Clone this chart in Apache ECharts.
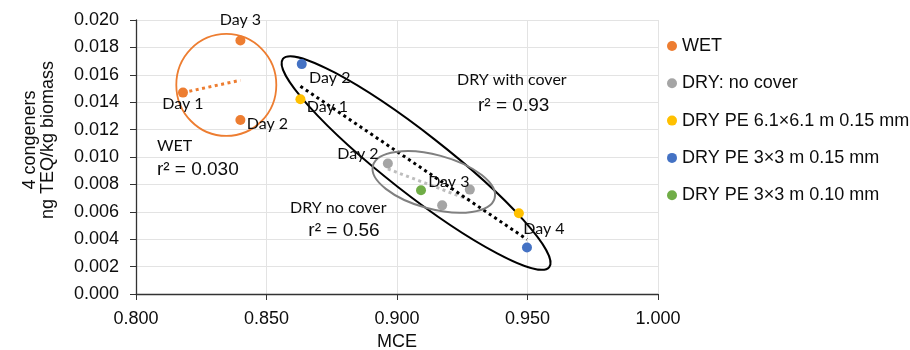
<!DOCTYPE html>
<html>
<head>
<meta charset="utf-8">
<script src="https://cdn.jsdelivr.net/npm/echarts@6/dist/echarts.min.js"></script>
<style>
  html, body { margin: 0; padding: 0; background: #fff; }
  #chart { width: 910px; height: 350px; }
</style>
</head>
<body>
<div id="chart"></div>
<script>
// values
const wetMce = [0.818, 0.840, 0.840]
const wetTeq = [0.0147, 0.0185, 0.0127]
const wetDays = ['Day 1', 'Day 3', 'Day 2']

const noCoverMce = [0.8965, 0.9279, 0.9173]
const noCoverTeq = [0.00952, 0.00762, 0.00647]
const noCoverDays = ['Day 2', 'Day 3', '']

const pe61Mce = [0.863, 0.9467]
const pe61Teq = [0.01421, 0.0059]
const pe61Days = ['Day 1', '']

const pe3x15Mce = [0.8635, 0.9498]
const pe3x15Teq = [0.01678, 0.00339]
const pe3x15Days = ['Day 2', 'Day 4']

const pe3x10Mce = [0.9092]
const pe3x10Teq = [0.00757]

const seriesNames = ['WET', 'DRY: no cover', 'DRY PE 6.1×6.1 m 0.15 mm', 'DRY PE 3×3 m 0.15 mm', 'DRY PE 3×3 m 0.10 mm']
const colors = ['#ED7D31', '#A5A5A5', '#FFC000', '#4472C4', '#70AD47']

const xTicks = [0.8, 1.0, 0.05]
const yTicks = [0, 0.02, 0.002]

// label offsets (px) for the day tags, keyed by series then point
const dayOffsets = {
  'WET': [[0, 11], [0, -21], [27, 4]],
  'DRY: no cover': [[-30, -10], [-21, -8], [0, 0]],
  'DRY PE 6.1×6.1 m 0.15 mm': [[27, 8], [0, 0]],
  'DRY PE 3×3 m 0.15 mm': [[28, 14], [17, -19]]
}

const chart = echarts.init(document.getElementById('chart'))
const labelFont = 'Lato, "Open Sans", sans-serif'
const textColor = '#0d0d0d'

function points(name, xs, ys, days) {
  return xs.map((x, i) => {
    const item = { value: [x, ys[i]] }
    if (days && days[i]) {
      item.label = {
        show: true,
        formatter: days[i],
        position: 'inside',
        offset: dayOffsets[name][i],
        color: textColor,
        fontSize: 16,
        fontFamily: labelFont
      }
    }
    return item
  })
}

// least squares line over the x range of the group
function fit(xs, ys) {
  const n = xs.length
  const mx = xs.reduce((a, b) => a + b, 0) / n
  const my = ys.reduce((a, b) => a + b, 0) / n
  let sxy = 0, sxx = 0
  xs.forEach((x, i) => {
    sxy += (x - mx) * (ys[i] - my)
    sxx += (x - mx) * (x - mx)
  })
  const k = sxy / sxx
  const x0 = Math.min(...xs), x1 = Math.max(...xs)
  return [[x0, my + k * (x0 - mx)], [x1, my + k * (x1 - mx)]]
}

function trend(data, color) {
  return {
    type: 'line',
    data: data,
    symbol: 'none',
    silent: true,
    z: 1,
    lineStyle: { color: color, width: 3, type: [3, 3.5] }
  }
}

const withCoverMce = pe61Mce.concat(pe3x15Mce, pe3x10Mce)
const withCoverTeq = pe61Teq.concat(pe3x15Teq, pe3x10Teq)

const scatterBase = { type: 'scatter', symbolSize: 10, z: 3, itemStyle: { opacity: 1 } }

chart.setOption({
  animation: false,
  color: colors,
  textStyle: { fontFamily: '"Liberation Sans", Arial, sans-serif' },
  grid: { left: 136, right: 252, top: 20, bottom: 56, containLabel: false, outerBoundsMode: 'none' },
  legend: {
    data: seriesNames,
    orient: 'vertical',
    left: 667,
    top: 37,
    padding: 0,
    itemWidth: 10,
    itemHeight: 10,
    itemGap: 19.3,
    icon: 'circle',
    textStyle: { fontSize: 18, color: textColor, lineHeight: 18, padding: [0, 0, 0, 0] }
  },
  xAxis: {
    type: 'value',
    min: xTicks[0],
    max: xTicks[1],
    interval: xTicks[2],
    name: 'MCE',
    nameLocation: 'middle',
    nameGap: 37,
    nameTextStyle: { fontSize: 18, color: textColor },
    axisLine: { show: true, lineStyle: { color: '#333', width: 1.3 } },
    axisTick: { show: true, length: 6, lineStyle: { color: '#333' } },
    axisLabel: { fontSize: 18, color: textColor, margin: 16, formatter: v => v.toFixed(3) },
    splitLine: { show: true, lineStyle: { color: '#e3e3e3', width: 1 } }
  },
  yAxis: {
    type: 'value',
    min: yTicks[0],
    max: yTicks[1],
    interval: yTicks[2],
    axisLine: { show: true, lineStyle: { color: '#333', width: 1.3 } },
    axisTick: { show: true, length: 6, lineStyle: { color: '#333' } },
    axisLabel: { fontSize: 18, color: textColor, margin: 17, formatter: v => v.toFixed(3) },
    splitLine: { show: true, lineStyle: { color: '#e3e3e3', width: 1 } }
  },
  series: [
    Object.assign({ name: seriesNames[0], data: points(seriesNames[0], wetMce, wetTeq, wetDays) }, scatterBase),
    Object.assign({ name: seriesNames[1], data: points(seriesNames[1], noCoverMce, noCoverTeq, noCoverDays) }, scatterBase),
    Object.assign({ name: seriesNames[2], data: points(seriesNames[2], pe61Mce, pe61Teq, pe61Days) }, scatterBase),
    Object.assign({ name: seriesNames[3], data: points(seriesNames[3], pe3x15Mce, pe3x15Teq, pe3x15Days) }, scatterBase),
    Object.assign({ name: seriesNames[4], data: points(seriesNames[4], pe3x10Mce, pe3x10Teq) }, scatterBase),
    trend(fit(wetMce, wetTeq), '#ED7D31'),
    trend(fit(noCoverMce, noCoverTeq), '#BDBDBD'),
    trend(fit(withCoverMce, withCoverTeq), '#000')
  ]
})

// group outlines: centre in data units, radii in px, tilt in degrees
const rings = [
  { c: [0.8346, 0.01526], rx: 50, ry: 51, tilt: 0, color: '#ED7D31', w: 1.8 },
  { c: [0.9073, 0.00956], rx: 169, ry: 30, tilt: 38, color: '#000', w: 2 },
  { c: [0.9141, 0.00818], rx: 63, ry: 27, tilt: 15, color: '#808080', w: 2 }
]

// free text, anchored in data units
const notes = [
  { at: [0.8080, 0.01085], text: 'WET', font: labelFont, size: 16, align: 'left' },
  { at: [0.8080, 0.00905], text: 'r² = 0.030', font: '"Liberation Sans", Arial', size: 19, align: 'left' },
  { at: [0.9440, 0.01562], text: 'DRY with cover', font: labelFont, size: 16, align: 'center' },
  { at: [0.9447, 0.01374], text: 'r² = 0.93', font: '"Liberation Sans", Arial', size: 19, align: 'center' },
  { at: [0.8775, 0.00628], text: 'DRY no cover', font: labelFont, size: 16, align: 'center' },
  { at: [0.8797, 0.00461], text: 'r² = 0.56', font: '"Liberation Sans", Arial', size: 19, align: 'center' }
]

const graphics = []
rings.forEach(r => {
  const p = chart.convertToPixel({ gridIndex: 0 }, r.c)
  graphics.push({
    type: 'ellipse',
    x: p[0],
    y: p[1],
    rotation: -r.tilt * Math.PI / 180,
    shape: { cx: 0, cy: 0, rx: r.rx, ry: r.ry },
    style: { fill: 'none', stroke: r.color, lineWidth: r.w },
    z: 2,
    silent: true
  })
})
notes.forEach(n => {
  const p = chart.convertToPixel({ gridIndex: 0 }, n.at)
  graphics.push({
    type: 'text',
    x: p[0],
    y: p[1],
    style: { text: n.text, fontSize: n.size, fontFamily: n.font, fill: textColor, textAlign: n.align, textVerticalAlign: 'middle' },
    z: 4,
    silent: true
  })
})
graphics.push({
  type: 'text',
  x: 39,
  y: 140,
  rotation: Math.PI / 2,
  style: {
    text: '4 congeners\nng TEQ/kg biomass',
    fontSize: 18,
    lineHeight: 18,
    fontFamily: '"Liberation Sans", Arial',
    fill: textColor,
    textAlign: 'center',
    textVerticalAlign: 'middle'
  },
  silent: true
})
chart.setOption({ graphic: graphics })
</script>
</body>
</html>
